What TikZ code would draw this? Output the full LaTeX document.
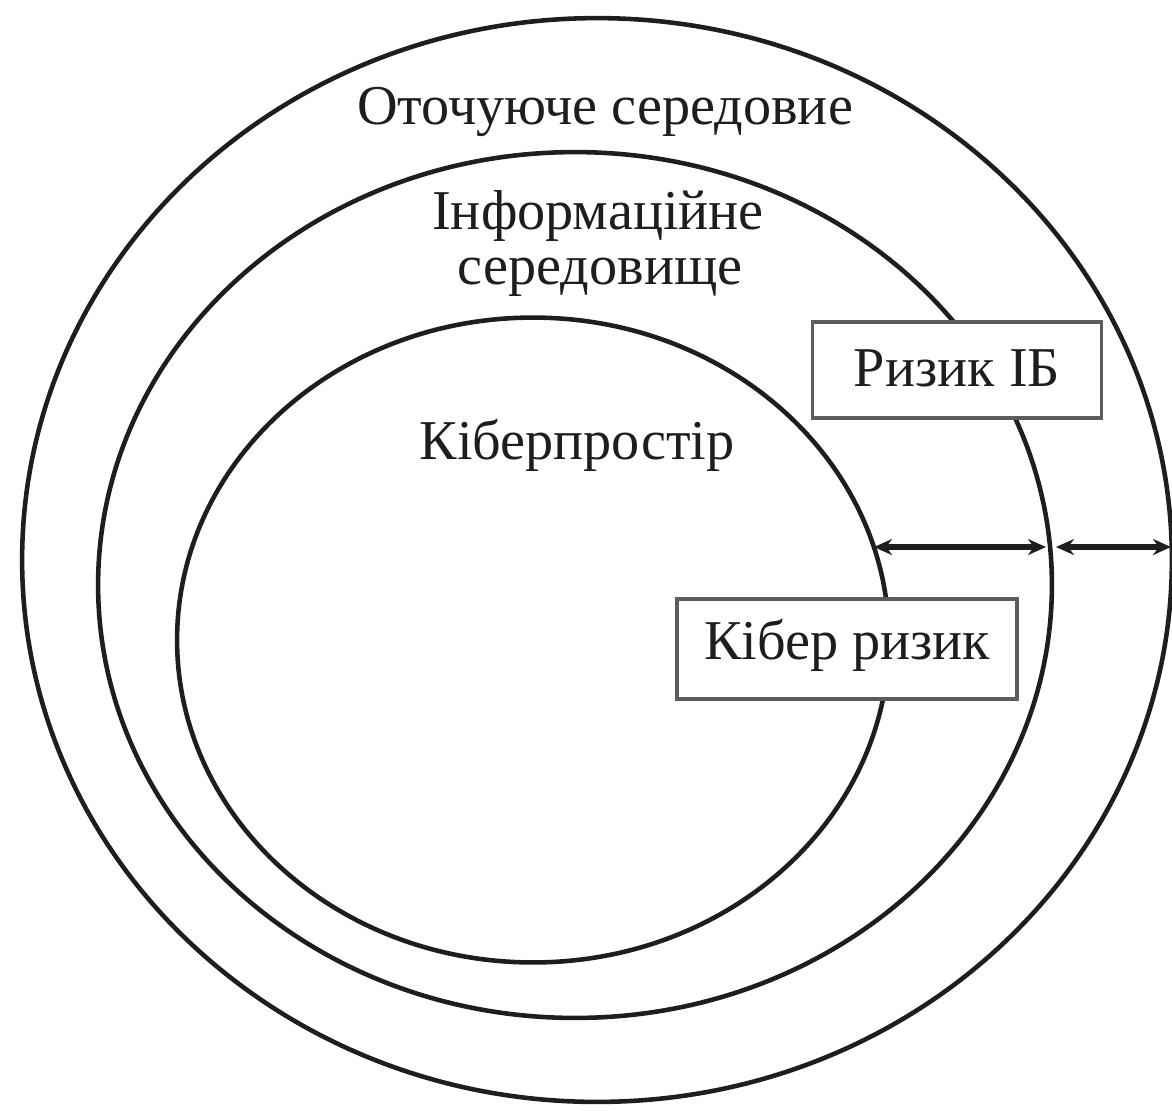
\documentclass[tikz,border=0pt]{standalone}
\usepackage{fontspec}
\setmainfont{Liberation Serif}
\usetikzlibrary{arrows.meta,shapes.geometric}
\definecolor{ink}{HTML}{1E1E1E}
\definecolor{frame}{HTML}{5C5C5C}

\begin{document}
\begin{tikzpicture}[x=0.02cm,y=-0.02cm,
  ring/.style={ellipse,draw=ink,line width=2.6pt,inner sep=0pt},
  riskbox/.style={draw=frame,fill=white,line width=1.8pt,inner sep=0pt,font=\fontsize{32}{34}\selectfont,text=ink,text height=21pt},
  lbl/.style={font=\fontsize{32}{34}\selectfont,text=ink,anchor=base},
  dist/.style={{Stealth[length=0.36cm,width=0.32cm]}-{Stealth[length=0.36cm,width=0.32cm]},draw=ink,line width=3pt}]
  \useasboundingbox (0,0) rectangle (1172,1110);
  % nested environments
  \node[ring,minimum width=23cm,minimum height=21.68cm] (env) at (597,560) {};
  \node[ring,minimum width=19.08cm,minimum height=17.32cm] (info) at (575,585) {};
  \node[ring,minimum width=14.24cm,minimum height=12.9cm] (cyber) at (533,640) {};
  \node[lbl] (envlbl) at (605,124) {Оточуюче середовие};
  \node[lbl] (infolbl) at (598,229) {Інформаційне};
  \node[lbl] (infolbl2) at (600,284) {середовище};
  \node[lbl] (cyberlbl) at (577,459) {Кіберпростір};
  % risk boxes
  \node[riskbox,text depth=2pt,minimum width=5.78cm,minimum height=1.92cm] (ibrisk) at (957,370) {Ризик ІБ};
  \node[riskbox,text depth=9pt,minimum width=6.8cm,minimum height=2cm] (cyberrisk) at (847,649) {Кібер ризик};
  % distances between the rings
  \coordinate (c1) at (874,547);
  \coordinate (i1) at (1046,547);
  \coordinate (i2) at (1056,547);
  \coordinate (e1) at (1171,547);
  \draw[dist] (c1) -- (i1);
  \draw[dist] (i2) -- (e1);
\end{tikzpicture}
\end{document}
